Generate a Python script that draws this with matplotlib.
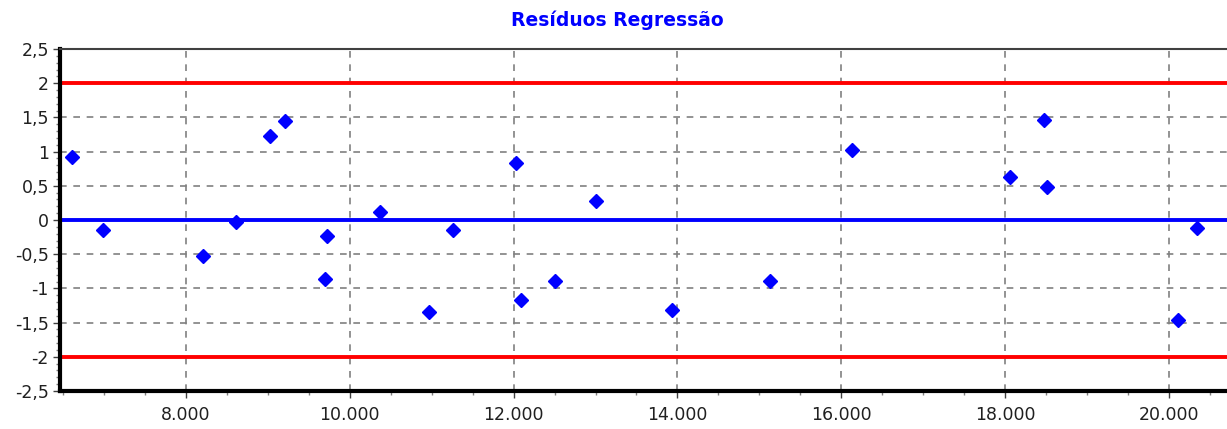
import matplotlib
matplotlib.use("Agg")
import matplotlib.pyplot as plt
from matplotlib.ticker import MultipleLocator, FuncFormatter

# data
x_vals = [6608, 6993, 8211, 8617, 9023, 9210, 9693, 9722, 10374, 10971,
          11264, 12032, 12085, 12511, 13010, 13934, 15133, 16134, 18057,
          18467, 18512, 20106, 20341]
residuals = [0.915, -0.143, -0.52, -0.03, 1.225, 1.453, -0.863, -0.23, 0.12,
             -1.34, -0.143, 0.827, -1.17, -0.885, 0.284, -1.316, -0.885,
             1.025, 0.628, 1.457, 0.483, -1.456, -0.118]
limits = [2, -2]
title = "Resíduos Regressão"

fig = plt.figure(figsize=(12.27, 4.29), dpi=100)
ax = fig.add_axes([60 / 1227, 38 / 429, 1167 / 1227, 342 / 429])

ax.set_xlim(6465, 20706)
ax.set_ylim(-2.5, 2.5)

ax.grid(True, color="#808080", linestyle=(0, (4, 4)), linewidth=1.2, zorder=1)
for lim in limits:
    ax.axhline(lim, color="#ff0000", linewidth=2.8, zorder=2)
ax.axhline(0, color="#0000ff", linewidth=2.8, zorder=2)
ax.plot(x_vals, residuals, linestyle="none", marker="D", markersize=7,
        color="#0000ff", zorder=3)

ax.xaxis.set_major_locator(MultipleLocator(2000))
ax.xaxis.set_minor_locator(MultipleLocator(500))
ax.yaxis.set_major_locator(MultipleLocator(0.5))
ax.yaxis.set_minor_locator(MultipleLocator(0.1))

ax.xaxis.set_major_formatter(FuncFormatter(lambda v, p: f"{int(v):,}".replace(",", ".")))
ax.yaxis.set_major_formatter(FuncFormatter(lambda v, p: f"{v:g}".replace(".", ",")))

ax.tick_params(axis="both", which="major", length=5, width=1, color="#404040",
               labelsize=12.5, labelcolor="#202020", direction="out", pad=3)
ax.tick_params(axis="both", which="minor", length=3, width=1, color="#808080",
               direction="out")
ax.tick_params(axis="x", which="major", pad=6)

ax.spines["left"].set_linewidth(3)
ax.spines["left"].set_color("black")
ax.spines["bottom"].set_linewidth(3)
ax.spines["bottom"].set_color("black")
ax.spines["top"].set_linewidth(1.5)
ax.spines["top"].set_color("#404040")
ax.spines["right"].set_visible(False)

fig.text(617 / 1227, 1 - 20 / 429, title, ha="center", va="center",
         color="#0000ff", fontsize=13.5, fontweight="bold")

fig.savefig("out.png", dpi=100)
